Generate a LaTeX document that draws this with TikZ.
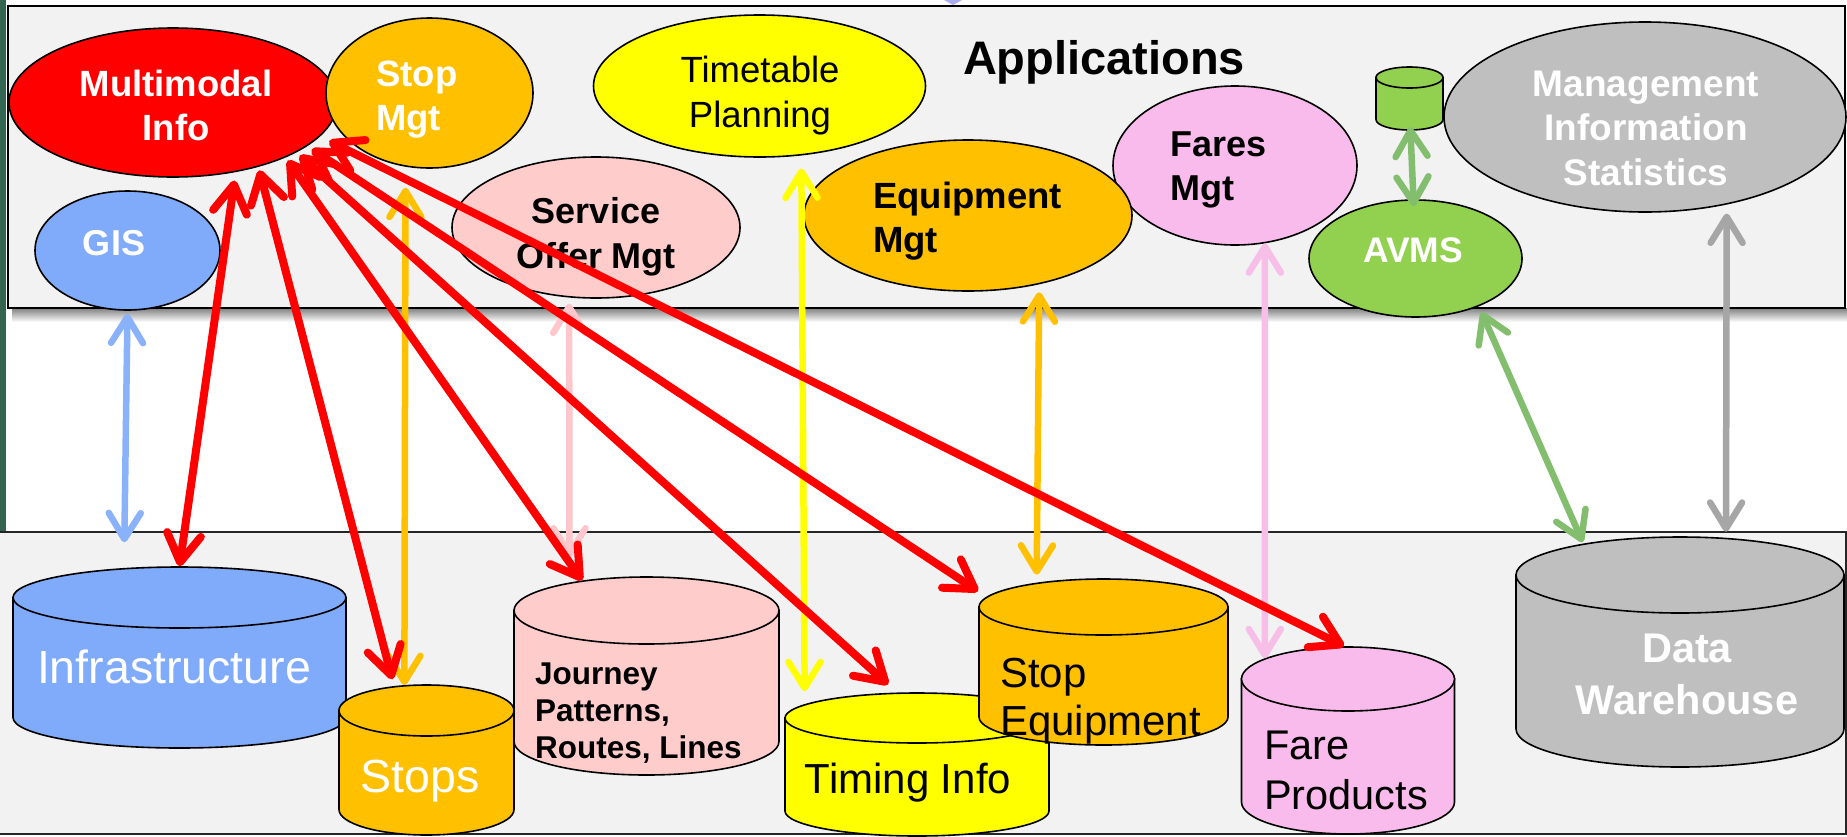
\documentclass[tikz,border=0pt]{standalone}
\usepackage{fontspec}
\setmainfont{Liberation Sans}
\usetikzlibrary{shapes.geometric,arrows.meta}
\definecolor{cRed}{RGB}{255,0,0}
\definecolor{cOrange}{RGB}{255,192,0}
\definecolor{cYellow}{RGB}{255,255,0}
\definecolor{cBlue}{RGB}{128,170,250}
\definecolor{cBlueA}{RGB}{138,178,250}
\definecolor{cPink}{RGB}{255,204,204}
\definecolor{cPinkA}{RGB}{255,198,204}
\definecolor{cFares}{RGB}{249,187,235}
\definecolor{cFaresA}{RGB}{247,190,232}
\definecolor{cGreen}{RGB}{146,208,80}
\definecolor{cGreenA}{RGB}{130,190,110}
\definecolor{cGray}{RGB}{191,191,191}
\definecolor{cGrayA}{RGB}{166,166,166}
\definecolor{cPanel}{RGB}{242,242,242}
\definecolor{cStrip}{RGB}{50,102,82}
\definecolor{cLav}{RGB}{170,172,240}
\newcommand\TxtTop{\rule{0pt}{.75em}}
\newcommand\TxtBot{\rule[-.25em]{0pt}{.25em}}
% name, cx, top, bottom, half width, rim radius, colour
\newcommand\drawcyl[7]{%
  \path[draw, line width=1.6pt, fill=#7] (#2-#5,#3+#6) -- (#2-#5,#4-#6)
    arc[start angle=180, end angle=0, x radius=#5, y radius=#6]
    -- (#2+#5,#3+#6) -- cycle;
  \node[ellipse, draw, line width=1.6pt, fill=#7, inner sep=0pt,
        minimum width=2*#5, minimum height=2*#6] (#1) at (#2,#3+#6) {};
  \node[ellipse, inner sep=0pt, minimum width=2*#5, minimum height=2*#6] (#1-base) at (#2,#4-#6) {};
}
\tikzset{
  appl/.style={ellipse, draw, line width=1.6pt, inner sep=0pt},
  lbl/.style={inner sep=0pt, align=center},
  lbll/.style={inner sep=0pt, align=left, anchor=west},
  redlink/.style={draw=cRed, line width=8pt,
    {Straight Barb[length=28pt,width=34pt,round]}-{Straight Barb[length=28pt,width=34pt,round]}},
  link/.style={line width=6.5pt,
    {Straight Barb[length=26pt,width=32pt,round]}-{Straight Barb[length=26pt,width=32pt,round]}},
}
\begin{document}
\begin{tikzpicture}[x=1pt,y=-1pt]
\useasboundingbox (0,0) rectangle (1847,836);
\fill[white] (0,0) rectangle (1847,836);
% background pieces
\fill[cStrip] (0,0) rectangle (6,532);
\shade[top color=black!50, bottom color=white] (12,308) rectangle (1850,322);
\draw[line width=2pt, fill=cPanel] (8,6) rectangle (1845,308);
\draw[line width=1.6pt, draw=black!85, fill=cPanel] (-3,532) rectangle (1846,834);
\fill[cLav] (944,0) -- (962,0) -- (953,5) -- cycle;

% applications
\node[appl, fill=cBlue, minimum width=185pt, minimum height=119pt] (gis) at (127.5,250.5) {};
\node[appl, fill=cPink, minimum width=288pt, minimum height=141pt] (som) at (596,227.5) {};
\node[appl, fill=cYellow, minimum width=332pt, minimum height=142pt] (ttp) at (759.5,86) {};
\node[appl, fill=cRed, minimum width=328pt, minimum height=149pt] (mmi) at (173,102.5) {};
\node[appl, fill=cOrange, minimum width=207pt, minimum height=150pt] (stopmgt) at (429.5,93) {};
\node[appl, fill=cFares, minimum width=244pt, minimum height=159pt] (fares) at (1235,165.5) {};
\node[appl, fill=cOrange, minimum width=328pt, minimum height=151pt] (eqm) at (968,215.5) {};
\node[appl, fill=cGreen, minimum width=213pt, minimum height=117pt] (avms) at (1415.5,258.5) {};
\node[appl, fill=cGray, minimum width=402pt, minimum height=190pt] (mis) at (1645,117) {};
\drawcyl{avmsdb}{1409.5}{67}{130}{33.5}{10.5}{cGreen}

% data stores
\drawcyl{infra}{179.5}{567}{748}{166.5}{30.5}{cBlue}
\drawcyl{stops}{426.5}{685}{835}{87.5}{25.5}{cOrange}
\drawcyl{jp}{646.5}{577}{775}{132.5}{33.5}{cPink}
\drawcyl{timing}{917}{693}{836}{132}{25}{cYellow}
\drawcyl{stopeq}{1103.5}{579}{745}{124.5}{28}{cOrange}
\drawcyl{fp}{1348}{647}{834}{106.5}{32}{cFares}
\drawcyl{dw}{1680}{537}{767}{164}{38}{cGray}

% labels
\node[lbl, text=white, font={\fontsize{36.5}{44}\selectfont\bfseries}] (mmi-t) at (176,108.9) {\TxtTop Multimodal\\Info\TxtBot};
\node[lbll, text=white, font={\fontsize{36.5}{44}\selectfont\bfseries}] (stopmgt-t) at (376,98.9) {\TxtTop Stop\\Mgt\TxtBot};
\node[lbl, text=white, font={\fontsize{36}{44}\selectfont\bfseries}] (gis-t) at (114,246) {\TxtTop GIS\TxtBot};
\node[lbl, font={\fontsize{36}{45}\selectfont\bfseries}] (som-t) at (596,236.5) {\TxtTop Service\\Offer Mgt\TxtBot};
\node[lbl, font={\fontsize{36.5}{45}\selectfont}] (ttp-t) at (760,95.4) {\TxtTop Timetable\\Planning\TxtBot};
\node[lbl, font={\fontsize{47}{56}\selectfont\bfseries}] (app-t) at (1104,62.25) {\TxtTop Applications\TxtBot};
\node[lbll, font={\fontsize{36.5}{44}\selectfont\bfseries}] (eqm-t) at (873,220.9) {\TxtTop Equipment\\Mgt\TxtBot};
\node[lbll, font={\fontsize{36}{44}\selectfont\bfseries}] (fares-t) at (1170,169) {\TxtTop Fares\\Mgt\TxtBot};
\node[lbl, text=white, font={\fontsize{35.5}{44}\selectfont\bfseries}] (avms-t) at (1413,254.1) {\TxtTop AVMS\TxtBot};
\node[lbl, text=white, font={\fontsize{37}{44.5}\selectfont\bfseries}] (mis-t) at (1646,131.25) {\TxtTop Management\\Information\\Statistics\TxtBot};
\node[lbl, text=white, font={\fontsize{46.5}{56}\selectfont}] (infra-t) at (174,671.4) {\TxtTop Infrastructure\TxtBot};
\node[lbl, text=white, font={\fontsize{46.5}{56}\selectfont}] (stops-t) at (420,780.4) {\TxtTop Stops\TxtBot};
\node[lbll, font={\fontsize{31.5}{37}\selectfont\bfseries}] (jp-t) at (535,714.1) {\TxtTop Journey\\Patterns,\\Routes, Lines\TxtBot};
\node[lbl, font={\fontsize{42}{50}\selectfont}] (timing-t) at (908,782.5) {\TxtTop Timing Info\TxtBot};
\node[lbll, font={\fontsize{42}{48}\selectfont}] (stopeq-t) at (1000,700.5) {\TxtTop Stop\\Equipment\TxtBot};
\node[lbll, font={\fontsize{41.5}{50}\selectfont}] (fp-t) at (1264,774.6) {\TxtTop Fare\\Products\TxtBot};
\node[lbl, text=white, font={\fontsize{41.5}{52}\selectfont\bfseries}] (dw-t) at (1687,678.6) {\TxtTop Data\\Warehouse\TxtBot};

% connectors
\draw[link, draw=cBlueA, shorten <=3pt, shorten >=25.7pt] (gis.-90) -- (infra.152.6);
\draw[link, draw=cOrange, shorten <=21pt] (stopmgt.-108.6) -- (stops.131);
\draw[link, draw=cPinkA, shorten <=6pt, shorten >=25pt] (som.-111.3) -- (jp.160.7);
\draw[link, draw=cYellow, shorten <=13pt, shorten >=13pt] (ttp.-59.5) -- (timing.173.9);
\draw[link, draw=cOrange, shorten <=8pt, shorten >=8pt] (eqm.-44.8) -- (stopeq.160.4);
\draw[link, draw=cFaresA] (fares.-69.4) -- (fp.166.8);
\draw[link, draw=cGreenA, shorten <=-3pt, shorten >=-7pt] (avmsdb-base.-85) -- (avms.92);
\draw[link, draw=cGreenA, shorten <=6.4pt, shorten >=1.6pt] (avms.-37.6) -- (dw.162.6);
\draw[link, draw=cGrayA, shorten <=9pt, shorten >=6pt] (mis.-47.5) -- (dw.39.8);

\draw[redlink, shorten <=8.5pt] (mmi.-48.5) -- (infra.90);
\draw[redlink, shorten <=3.6pt, shorten >=7pt] (mmi.-37.3) -- (stops.143.2);
\draw[redlink, shorten <=3.7pt] (mmi.-26) -- (jp.155.7);
\draw[redlink, shorten <=4.5pt, shorten >=12pt] (mmi.-22.7) -- (timing.128.7);
\draw[redlink, shorten <=5.4pt, shorten >=10pt] (mmi.-18.7) -- (stopeq.175.9);
\draw[redlink, shorten <=10.2pt] (mmi.-13.6) -- (fp.97.4);
\end{tikzpicture}
\end{document}
